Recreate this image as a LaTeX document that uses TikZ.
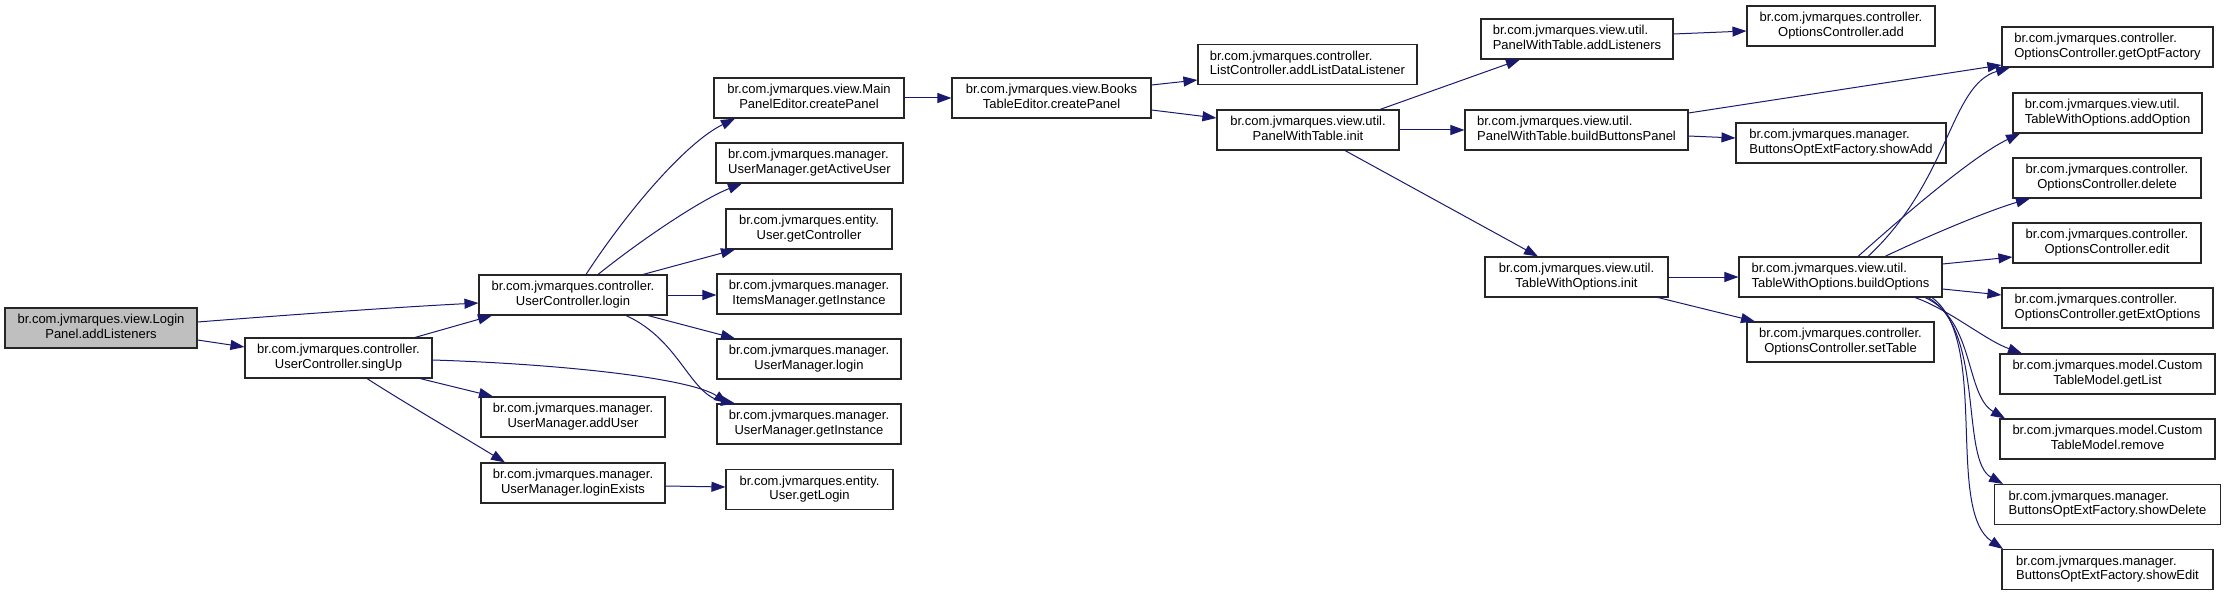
\documentclass[tikz,border=0pt]{standalone}
\usepackage{fontspec}
\setmainfont{Liberation Sans}
\usetikzlibrary{arrows.meta}
\definecolor{edgeblue}{HTML}{191970}
\definecolor{rootgray}{HTML}{BFBFBF}
\newcommand\lbl[2]{\begin{tabular}{@{}l@{}}#1\\\multicolumn{1}{@{}c@{}}{#2}\end{tabular}}
\tikzset{
  fn/.style={draw=black!85, line width=1.1pt, rectangle, minimum height=40pt, inner xsep=3pt, inner ysep=2pt,
    font=\fontsize{13}{14.7}\selectfont, text=black},
  edge/.style={draw=edgeblue, line width=1pt, -{Triangle[length=14pt,width=10pt]}}
}
\begin{document}
\begin{tikzpicture}[x=1pt,y=-1pt]
\useasboundingbox (0,0) rectangle (2225,596);
% column 0
\node[fn, fill=rootgray, minimum width=192pt] (lp) at (101,328) {\lbl{br.com.jvmarques.view.Login}{Panel.addListeners}};
% column 1
\node[fn, minimum width=187pt] (su) at (338.5,358) {\lbl{br.com.jvmarques.controller.}{UserController.singUp}};
% column 2
\node[fn, minimum width=188pt] (ucl) at (573,295) {\lbl{br.com.jvmarques.controller.}{UserController.login}};
\node[fn, minimum width=184pt] (umau) at (573,417) {\lbl{br.com.jvmarques.manager.}{UserManager.addUser}};
\node[fn, minimum width=184pt] (umle) at (573,483) {\lbl{br.com.jvmarques.manager.}{UserManager.loginExists}};
% column 3
\node[fn, minimum width=190pt] (mpe) at (809,98) {\lbl{br.com.jvmarques.view.Main}{PanelEditor.createPanel}};
\node[fn, minimum width=187pt] (gau) at (809.5,163) {\lbl{br.com.jvmarques.manager.}{UserManager.getActiveUser}};
\node[fn, minimum width=166pt] (ugc) at (809,229) {\lbl{br.com.jvmarques.entity.}{User.getController}};
\node[fn, minimum width=184pt] (img) at (809,294) {\lbl{br.com.jvmarques.manager.}{ItemsManager.getInstance}};
\node[fn, minimum width=184pt] (uml) at (809,359) {\lbl{br.com.jvmarques.manager.}{UserManager.login}};
\node[fn, minimum width=184pt] (umgi) at (809,424) {\lbl{br.com.jvmarques.manager.}{UserManager.getInstance}};
\node[fn, minimum width=167pt] (ugl) at (809.5,489.5) {\lbl{br.com.jvmarques.entity.}{User.getLogin}};
% column 4
\node[fn, minimum width=199pt] (bte) at (1051.5,98) {\lbl{br.com.jvmarques.view.Books}{TableEditor.createPanel}};
% column 5
\node[fn, minimum width=219pt] (lca) at (1307.5,64.5) {\lbl{br.com.jvmarques.controller.}{ListController.addListDataListener}};
\node[fn, minimum width=182pt] (pwi) at (1308,130) {\lbl{br.com.jvmarques.view.util.}{PanelWithTable.init}};
% column 6
\node[fn, minimum width=192pt] (pwa) at (1577,39) {\lbl{br.com.jvmarques.view.util.}{PanelWithTable.addListeners}};
\node[fn, minimum width=223pt] (pwb) at (1576.5,130) {\lbl{br.com.jvmarques.view.util.}{PanelWithTable.buildButtonsPanel}};
\node[fn, minimum width=183pt] (twi) at (1576.5,277) {\lbl{br.com.jvmarques.view.util.}{TableWithOptions.init}};
% column 7
\node[fn, minimum width=188pt] (oca) at (1841,26) {\lbl{br.com.jvmarques.controller.}{OptionsController.add}};
\node[fn, minimum width=210pt] (bsa) at (1841,143) {\lbl{br.com.jvmarques.manager.}{ButtonsOptExtFactory.showAdd}};
\node[fn, minimum width=203pt] (bo) at (1840.5,277) {\lbl{br.com.jvmarques.view.util.}{TableWithOptions.buildOptions}};
\node[fn, minimum width=187pt] (st) at (1840.5,342) {\lbl{br.com.jvmarques.controller.}{OptionsController.setTable}};
% column 8
\node[fn, minimum width=211pt] (gof) at (2107.5,47) {\lbl{br.com.jvmarques.controller.}{OptionsController.getOptFactory}};
\node[fn, minimum width=189pt] (ao) at (2107.5,113) {\lbl{br.com.jvmarques.view.util.}{TableWithOptions.addOption}};
\node[fn, minimum width=188pt] (del) at (2107,178) {\lbl{br.com.jvmarques.controller.}{OptionsController.delete}};
\node[fn, minimum width=188pt] (ed) at (2107,243) {\lbl{br.com.jvmarques.controller.}{OptionsController.edit}};
\node[fn, minimum width=211pt] (geo) at (2107.5,308) {\lbl{br.com.jvmarques.controller.}{OptionsController.getExtOptions}};
\node[fn, minimum width=215pt] (gl) at (2107.5,374) {\lbl{br.com.jvmarques.model.Custom}{TableModel.getList}};
\node[fn, minimum width=215pt] (rm) at (2107.5,439) {\lbl{br.com.jvmarques.model.Custom}{TableModel.remove}};
\node[fn, minimum width=226pt] (sd) at (2107.5,504.5) {\lbl{br.com.jvmarques.manager.}{ButtonsOptExtFactory.showDelete}};
\node[fn, minimum width=211pt] (se) at (2107.5,569.5) {\lbl{br.com.jvmarques.manager.}{ButtonsOptExtFactory.showEdit}};
% edges
\draw[edge] (lp.east |- 0,322) .. controls (300,314) and (400,307) .. (ucl.west |- 0,303);
\draw[edge] (lp.east |- 0,340) -- (su.west |- 0,347);
\draw[edge] (su.north -| 415,0) -- (ucl.south -| 492,0);
\draw[edge] (su.east |- 0,360) .. controls (560,364) and (690,378) .. (umgi.north -| 728,0);
\draw[edge] (su.south -| 420,0) -- (umau.north -| 493,0);
\draw[edge] (su.south -| 367,0) .. controls (400,400) and (460,435) .. (umle.north -| 505,0);
\draw[edge] (umle.east |- 0,486) -- (ugl.west |- 0,487);
\draw[edge] (ucl.north -| 586,0) .. controls (626,213) and (685,143) .. (mpe.south -| 735,0);
\draw[edge] (ucl.north -| 598,0) .. controls (650,233) and (705,198) .. (gau.south -| 742,0);
\draw[edge] (ucl.north -| 643,0) -- (ugc.south -| 735,0);
\draw[edge] (ucl.east |- 0,295) -- (img.west |- 0,295);
\draw[edge] (ucl.south -| 648,0) -- (uml.north -| 735,0);
\draw[edge] (ucl.south -| 626,0) .. controls (680,340) and (690,395) .. (umgi.north -| 735,0);
\draw[edge] (mpe.east) -- (bte.west);
\draw[edge] (bte.east |- 0,85) -- (lca.west |- 0,80);
\draw[edge] (bte.east |- 0,110) -- (pwi.west |- 0,118);
\draw[edge] (pwi.north -| 1380,0) -- (pwa.south -| 1520,0);
\draw[edge] (pwi.east) -- (pwb.west);
\draw[edge] (pwi.south -| 1345,0) -- (twi.north -| 1538,0);
\draw[edge] (pwa.east |- 0,34) -- (oca.west |- 0,31);
\draw[edge] (pwb.east |- 0,113) -- (gof.west |- 0,65);
\draw[edge] (pwb.east |- 0,136) -- (bsa.west |- 0,138);
\draw[edge] (twi.east) -- (bo.west);
\draw[edge] (twi.south -| 1658,0) -- (st.north -| 1755,0);
\draw[edge] (bo.north -| 1868,0) .. controls (1950,180) and (1950,85) .. (gof.south -| 2010,0);
\draw[edge] (bo.north -| 1858,0) .. controls (1910,210) and (1975,155) .. (ao.south -| 2020,0);
\draw[edge] (bo.north -| 1885,0) .. controls (1930,235) and (1990,210) .. (del.south -| 2030,0);
\draw[edge] (bo.east |- 0,264) -- (ed.west |- 0,257);
\draw[edge] (bo.east |- 0,289) -- (geo.west |- 0,295);
\draw[edge] (bo.south -| 1915,0) .. controls (1950,310) and (1985,340) .. (gl.north -| 2022,0);
\draw[edge] (bo.south -| 1925,0) .. controls (1975,320) and (1965,395) .. (rm.north -| 2005,0);
\draw[edge] (bo.south -| 1928,0) .. controls (1985,330) and (1960,460) .. (sd.north -| 2003,0);
\draw[edge] (bo.south -| 1932,0) .. controls (1990,340) and (1945,510) .. (se.north -| 2003,0);
\end{tikzpicture}
\end{document}
